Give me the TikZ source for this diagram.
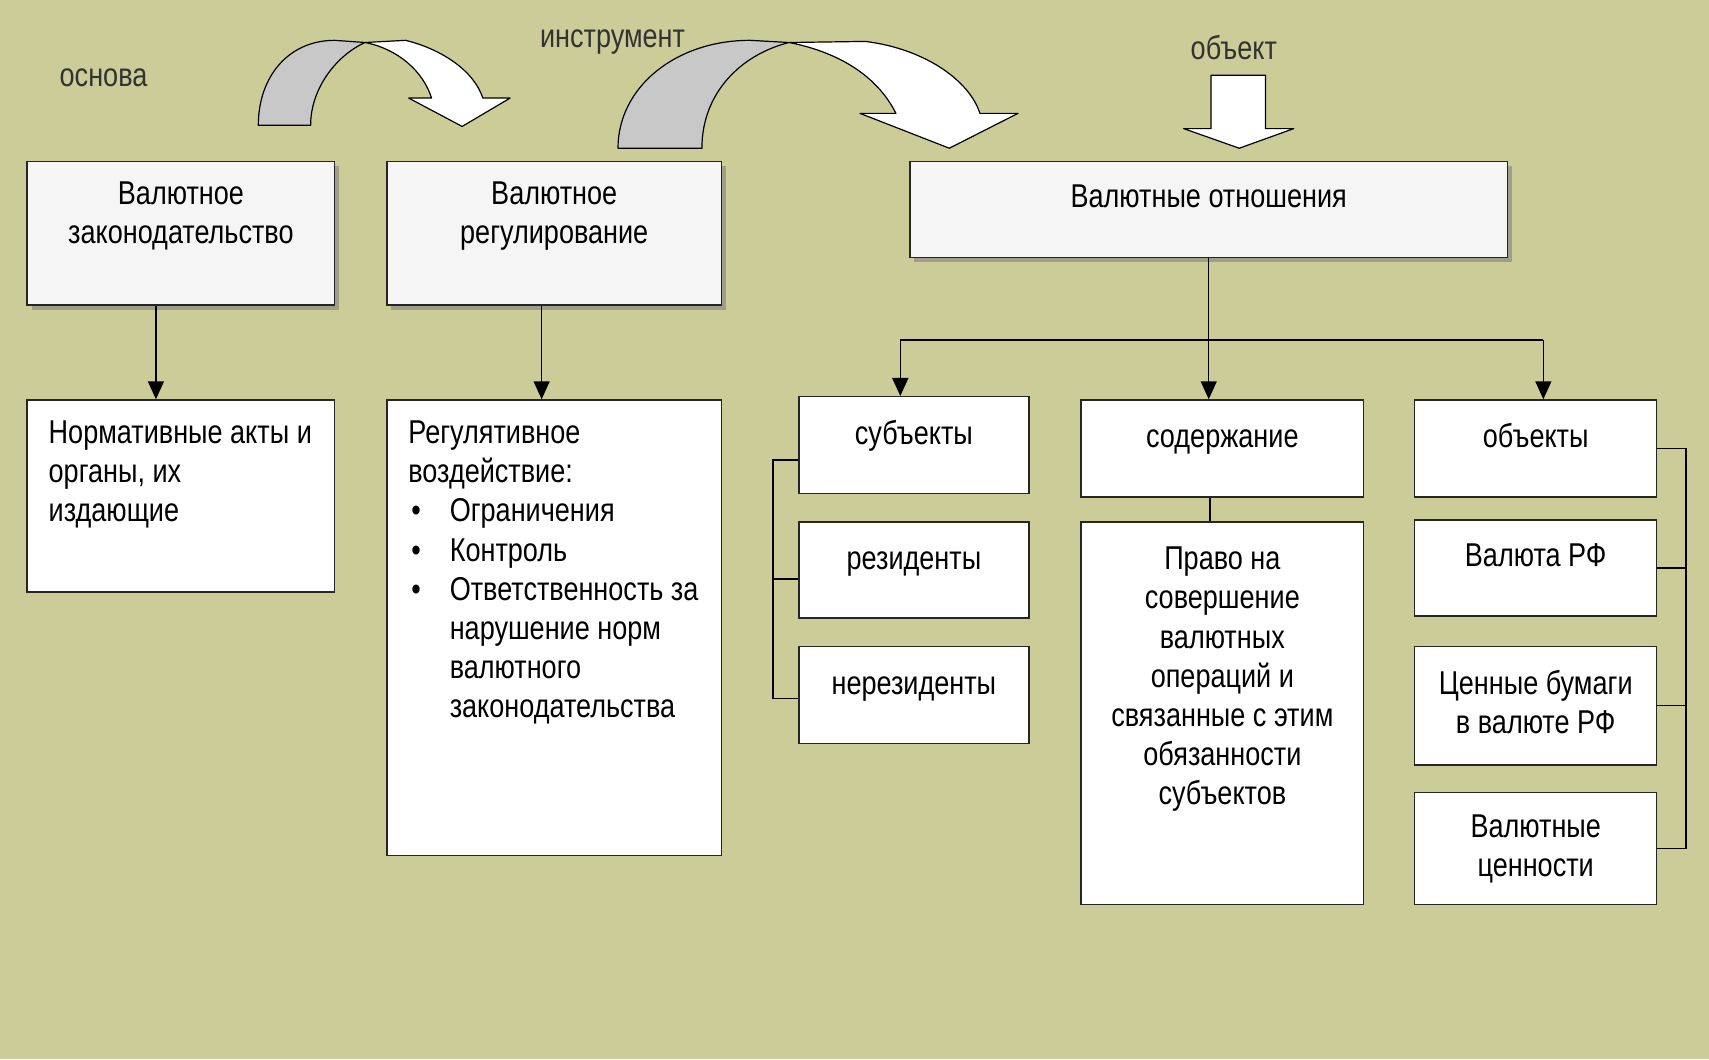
\documentclass[tikz,border=0pt]{standalone}
\usepackage{fontspec}
\setmainfont{Liberation Sans}[FakeStretch=0.82]
\usetikzlibrary{positioning,shadows,arrows.meta}
\definecolor{bgolive}{RGB}{204,204,153}
\definecolor{backgrey}{RGB}{200,200,200}
\definecolor{headfill}{RGB}{245,245,245}
\newcommand{\bitem}{\hspace*{1.5pt}\makebox[19.2pt][l]{\textbullet}}
\newcommand{\bindent}{\hspace*{20.7pt}}
\tikzset{
  box/.style={draw=black!85, line width=0.75pt, fill=white, inner sep=0pt},
  headbox/.style={box, fill=headfill, drop shadow={shadow xshift=2.2pt, shadow yshift=-2.2pt, fill=black!50, opacity=0.6}},
  boxtext/.style={font=\fontsize{16.5}{19.6}\selectfont, align=center, inner sep=0pt, execute at begin node=\strut},
  lbl/.style={font=\fontsize{16.5}{19.6}\selectfont, text=black!80, inner sep=0pt},
  arr/.style={line width=0.75pt, -{Triangle[width=8pt,length=9pt]}},
  link/.style={line width=0.75pt},
  blockarrow/.style={draw=black, line width=0.6pt, line join=round},
}

\begin{document}
\begin{tikzpicture}[x=0.545pt, y=-0.545pt]
  %%%%% background %%%%%
  \useasboundingbox (0,0) rectangle (1568,972);
  \fill[bgolive] (0,0) rectangle (1568,972);

  %%%%% labels and block arrows %%%%%
  \node[lbl] (osnova) at (95,71) {основа};
  \node[lbl] (instr) at (562,39) {инструмент};
  \node[lbl] (obekt) at (1132,44) {объект};

  \draw[blockarrow, fill=backgrey] (237,115) .. controls (237,70) and (265,37) .. (307,37) -- (335,39) .. controls (310,50) and (285,80) .. (285,115) -- cycle;
  \draw[blockarrow, fill=white] (335,39) -- (372,37) .. controls (405,45) and (435,65) .. (443,90) -- (468,90) -- (424,116) -- (375,90) -- (396,90) .. controls (388,65) and (365,45) .. (335,39) -- cycle;

  \draw[blockarrow, fill=backgrey] (567,136) .. controls (567,80) and (620,37) .. (688,37) -- (724,39) .. controls (680,50) and (644,85) .. (644,136) -- cycle;
  \draw[blockarrow, fill=white] (724,39) -- (794,38) .. controls (850,45) and (890,75) .. (899,104) -- (934,104) -- (871,136) -- (789,104) -- (822,104) .. controls (805,70) and (770,48) .. (724,39) -- cycle;

  \draw[blockarrow, fill=white] (1111,69) -- (1161,69) -- (1161,118) -- (1187,118) -- (1137,136) -- (1086,118) -- (1111,118) -- cycle;

  %%%%% top row %%%%%
  \node[headbox, minimum width=153.7pt, minimum height=71.9pt] (zak) at (166,214) {};
  \node[boxtext, below=10.4pt of zak.north] (zak-t) {Валютное\\законодательство};
  \node[headbox, minimum width=167.3pt, minimum height=71.9pt] (reg) at (508.5,214) {};
  \node[boxtext, below=10.4pt of reg.north] (reg-t) {Валютное\\регулирование};
  \node[headbox, minimum width=298.7pt, minimum height=48pt] (rel) at (1109,192) {};
  \node[boxtext, below=9.8pt of rel.north] (rel-t) {Валютные отношения};

  %%%%% left column %%%%%
  \node[box, minimum width=153.7pt, minimum height=95.9pt] (norm) at (166,455) {};
  \node[boxtext, align=left, below right=10.6pt and 10.9pt of norm.north west] (norm-t) {Нормативные акты и\\органы, их\\издающие};
  \node[box, minimum width=167.3pt, minimum height=227.8pt] (rv) at (508.5,576) {};
  \node[boxtext, align=left, below right=10.6pt and 10.9pt of rv.north west] (rv-t) {Регулятивное\\воздействие:\\\bitem Ограничения\\\bitem Контроль\\\bitem Ответственность за\\\bindent нарушение норм\\\bindent валютного\\\bindent законодательства};

  %%%%% subjects %%%%%
  \node[box, minimum width=115pt, minimum height=48.5pt] (subj) at (838.5,408.5) {};
  \node[boxtext, below=10.4pt of subj.north] (subj-t) {субъекты};
  \node[box, minimum width=115pt, minimum height=48pt] (rez) at (838.5,523) {};
  \node[boxtext, below=10.4pt of rez.north] (rez-t) {резиденты};
  \node[box, minimum width=115pt, minimum height=48.5pt] (nerez) at (838.5,637.5) {};
  \node[boxtext, below=10.4pt of nerez.north] (nerez-t) {нерезиденты};

  %%%%% content %%%%%
  \node[box, minimum width=141.2pt, minimum height=48.5pt] (soder) at (1121.5,411.5) {};
  \node[boxtext, below=10.4pt of soder.north] (soder-t) {содержание};
  \node[box, minimum width=141.2pt, minimum height=191.3pt] (pravo) at (1121.5,654.5) {};
  \node[boxtext, below=12.6pt of pravo.north] (pravo-t) {Право на\\совершение\\валютных\\операций и\\связанные с этим\\обязанности\\субъектов};

  %%%%% objects %%%%%
  \node[box, minimum width=121pt, minimum height=48.5pt] (obj) at (1409,411.5) {};
  \node[boxtext, below=10.4pt of obj.north] (obj-t) {объекты};
  \node[box, minimum width=121pt, minimum height=48pt] (valrf) at (1409,521) {};
  \node[boxtext, below=10pt of valrf.north] (valrf-t) {Валюта РФ};
  \node[box, minimum width=121pt, minimum height=59.4pt] (cen) at (1409,647.5) {};
  \node[boxtext, below=12pt of cen.north] (cen-t) {Ценные бумаги\\в валюте РФ};
  \node[box, minimum width=121pt, minimum height=56.1pt] (valcen) at (1409,778.5) {};
  \node[boxtext, below=11.4pt of valcen.north] (valcen-t) {Валютные\\ценности};

  %%%%% connectors %%%%%
  \draw[arr] ([xshift=-12.5pt]zak.south) -- ([xshift=-12.5pt]zak.south |- norm.north);
  \draw[arr] ([xshift=-6.3pt]reg.south) -- ([xshift=-6.3pt]reg.south |- rv.north);

  \coordinate (forkL) at (826,312);
  \coordinate (forkR) at (1416,312);
  \draw[link] (rel.south) -- (rel.south |- forkL);
  \draw[link] (forkL) -- (forkR);
  \draw[arr] (forkL) -- (forkL |- subj.north);
  \draw[arr] (rel.south |- forkL) -- (rel.south |- soder.north);
  \draw[arr] (forkR) -- (forkR |- obj.north);
  \draw[link] ([xshift=-6.3pt]soder.south) -- ([xshift=-6.3pt]soder.south |- pravo.north);

  \draw[link] ([yshift=-7.4pt]subj.west) -- ++(-12.5pt,0) |- ([yshift=-1.9pt]nerez.west);
  \draw[link] ([yshift=-4.6pt]rez.west) -- ++(-12.5pt,0);

  \draw[link] (obj.east) -- ++(14.2pt,0) |- (valcen.east);
  \draw[link] (valrf.east) -- ++(14.2pt,0);
  \draw[link] (cen.east) -- ++(14.2pt,0);
\end{tikzpicture}
\end{document}
